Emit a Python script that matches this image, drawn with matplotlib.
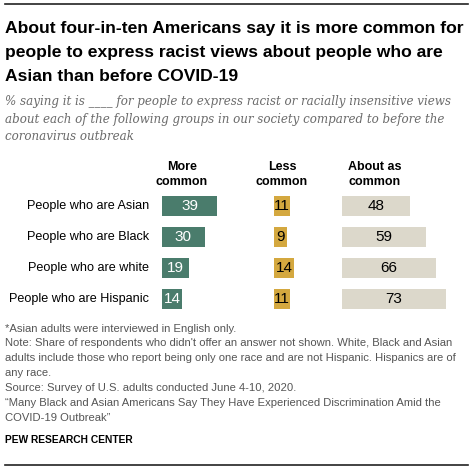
import matplotlib
matplotlib.use("Agg")
import matplotlib.pyplot as plt
from matplotlib.lines import Line2D

groups = ["People who are Asian", "People who are Black", "People who are white", "People who are Hispanic"]
more_common = [39, 30, 19, 14]
less_common = [11, 9, 14, 11]
about_as_common = [48, 59, 66, 73]
headers = ["More\ncommon", "Less\ncommon", "About as\ncommon"]

title = ("About four-in-ten Americans say it is more common for\n"
         "people to express racist views about people who are\n"
         "Asian than before COVID-19")
subtitle = ("% saying it is ____ for people to express racist or racially insensitive views\n"
            "about each of the following groups in our society compared to before the\n"
            "coronavirus outbreak")
notes = ["*Asian adults were interviewed in English only.",
         "Note: Share of respondents who didn't offer an answer not shown. White, Black and Asian",
         "adults include those who report being only one race and are not Hispanic. Hispanics are of",
         "any race.",
         "Source: Survey of U.S. adults conducted June 4-10, 2020.",
         "\u201cMany Black and Asian Americans Say They Have Experienced Discrimination Amid the",
         "COVID-19 Outbreak\u201d"]
credit = "PEW RESEARCH CENTER"

W, H = 474, 469
fig = plt.figure(figsize=(W / 100, H / 100), dpi=100)
fig.patch.set_facecolor("white")

def fx(px):
    return px / W

def fy(py):
    return 1 - py / H

# rules
fig.add_artist(Line2D([fx(5), fx(468)], [fy(4), fy(4)], color="#222222", lw=1.2))
fig.add_artist(Line2D([fx(5), fx(468)], [fy(464.5), fy(464.5)], color="#222222", lw=1.2))

fig.text(fx(5), fy(21.5), title, ha="left", va="top", fontsize=12.6, fontweight="bold",
         family="Liberation Sans", color="black", linespacing=1.74)
fig.text(fx(5), fy(94.5), subtitle, ha="left", va="top", fontsize=8.6, style="italic",
         family="DejaVu Serif", color="#6b6b6b", linespacing=1.5)

px_per_unit = 1.42
row_top, row_bot = 190.5, 314.5
cols = [
    (162, 80, more_common, "#4a7c6c", "white"),
    (274, 40, less_common, "#d4a83f", "black"),
    (342, 120, about_as_common, "#dcd8cb", "black"),
]
header_x = [182, 282, 375]
bar_h = 20 / 31

for i, (left, width, vals, color, tcol) in enumerate(cols):
    ax = fig.add_axes([fx(left), fy(row_bot), width / W, (row_bot - row_top) / H])
    ax.barh(range(len(vals)), vals, height=bar_h, color=color)
    ax.set_xlim(0, width / px_per_unit)
    ax.set_ylim(len(vals) - 0.5, -0.5)
    ax.axis("off")
    for j, v in enumerate(vals):
        ax.text(v / 2, j, str(v), ha="center", va="center", fontsize=11,
                family="Liberation Sans", color=tcol)
    if i == 0:
        for j, g in enumerate(groups):
            ax.text(-13 / px_per_unit, j, g, ha="right", va="center", fontsize=9.1,
                    family="Liberation Sans", color="black")
    fig.text(fx(header_x[i]), fy(161), headers[i], ha="center", va="top", fontsize=9,
             fontweight="bold", family="Liberation Sans", color="black", linespacing=1.38)

fig.text(fx(5), fy(323.5), "\n".join(notes), ha="left", va="top", fontsize=8.1,
         family="Liberation Sans", color="#555555", linespacing=1.61)
fig.text(fx(5), fy(435), credit, ha="left", va="top", fontsize=7.4, fontweight="bold",
         family="Liberation Sans", color="black")

fig.savefig("out.png", dpi=100, facecolor="white")
